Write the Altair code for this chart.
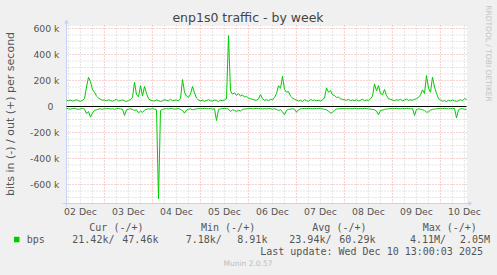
import altair as alt
import pandas as pd

# ---------------- data ----------------
title_text = "enp1s0 traffic - by week"
y_title = "bits in (-) / out (+) per second"
side_text = "RRDTOOL / TOBI OETIKER"
footer_text = "Munin 2.0.57"
update_text = "Last update: Wed Dec 10 13:00:03 2025"

# hours since Dec 2 05:00 (30-min RRD, 200 h window ending Dec 10 13:00)
x_label_hours = [7, 31, 55, 79, 103, 127, 151, 175, 199]
x_labels = ["02 Dec", "03 Dec", "04 Dec", "05 Dec", "06 Dec", "07 Dec", "08 Dec", "09 Dec", "10 Dec"]
major_x_hours = [19, 43, 67, 91, 115, 139, 163, 187]
minor_x_hours = [1, 7, 13, 25, 31, 37, 49, 55, 61, 73, 79, 85, 97, 103, 109,
                 121, 127, 133, 145, 151, 157, 169, 175, 181, 193, 199]
y_tick_values = [-600, -400, -200, 0, 200, 400, 600]
y_tick_labels = ["-600 k", "-400 k", "-200 k", "0", "200 k", "400 k", "600 k"]
major_y_values = [-600, -400, -200, 200, 400, 600]
minor_y_values = [-700, -650, -550, -500, -450, -350, -300, -250, -150, -100, -50,
                  50, 100, 150, 250, 300, 350, 450, 500, 550]

# outbound bits/s (k), one value per hour
out_k = (
    [48, 44, 50, 42, 46, 52, 44, 40, 47, 60]
    + [150, 225, 190, 130, 110, 80, 65, 55, 48, 50]
    + [44, 52, 46, 40, 48, 55, 42, 46, 50, 44, 38, 47, 52, 70]
    + [187, 90, 75, 160, 80, 154, 100, 60, 48, 45]
    + [42, 50, 46, 38, 44, 52, 47, 43, 55, 45, 48, 50, 44, 60]
    + [208, 110, 80, 70, 95, 154, 105, 65, 50, 44]
    + [48, 40, 46, 52, 44, 42, 50, 46, 38, 48, 45, 50, 60]
    + [546, 120, 95, 105, 85, 100, 80, 90, 72, 78, 65]
    + [60, 55, 50, 48, 58, 92, 60, 48, 52, 44, 56, 50, 70]
    + [100, 160, 140, 233, 130, 110, 115, 80, 65, 55, 50]
    + [42, 48, 38, 52, 45, 40, 55, 46, 50, 44, 48, 42, 52, 65]
    + [143, 110, 123, 90, 85, 70, 72, 60, 55, 52]
    + [48, 55, 44, 50, 46, 52, 42, 48, 56, 45, 50, 47, 58, 80]
    + [174, 120, 161, 100, 90, 131, 85, 60, 55, 50]
    + [45, 52, 48, 55, 44, 50, 58, 46, 52, 48, 55, 60, 70, 90]
    + [128, 100, 238, 140, 110, 226, 150, 102, 60, 50]
    + [40, 46, 38, 48, 42, 50, 44, 38, 46, 52, 44, 60, 54]
)
# inbound bits/s (k), drawn below zero
in_k = (
    [15, 18, 20, 16, 14, 18, 22, 17, 15, 20]
    + [55, 40, 82, 50, 30, 25, 20, 18, 22, 16]
    + [18, 15, 20, 17, 22, 16, 14, 19, 21, 69, 25, 20, 18, 22]
    + [30, 25, 49, 35, 45, 28, 22, 18, 20, 16]
    + [20, 25, 710, 30, 22, 18, 16, 19, 15, 17, 20, 18, 16, 22]
    + [30, 51, 28, 20, 18, 25, 22, 18, 16, 15]
    + [17, 14, 16, 18, 15, 20, 17, 108, 22, 18, 16, 15, 17]
    + [20, 38, 25, 30, 38, 28, 35, 22, 20, 18, 16]
    + [15, 18, 16, 14, 17, 15, 19, 16, 18, 15, 17, 20, 18]
    + [22, 30, 25, 40, 64, 30, 22, 20, 18, 20, 44]
    + [25, 18, 16, 15, 17, 14, 16, 18, 15, 17, 14, 16, 18, 22]
    + [25, 35, 51, 45, 28, 20, 18, 16, 15, 17]
    + [16, 18, 15, 17, 14, 16, 18, 15, 17, 14, 16, 18, 20, 22]
    + [25, 35, 64, 30, 28, 22, 20, 18, 16, 15]
    + [17, 14, 16, 18, 15, 17, 14, 16, 18, 15, 69, 22, 18, 20]
    + [25, 30, 44, 40, 28, 22, 20, 18, 16, 15]
    + [17, 14, 16, 18, 15, 17, 14, 87, 25, 18, 16, 21, 21]
)

series_name = "bps"
legend_headers = ["Cur (-/+)", "Min (-/+)", "Avg (-/+)", "Max (-/+)"]
legend_in = ["21.42k/", "7.18k/", "23.94k/", "4.11M/"]
legend_out = ["47.46k", "8.91k", "60.29k", "2.05M"]

# ---------------- layout / style ----------------
OX, OY = 66.5, 25.5          # plot origin in page pixels
W, H = 400, 178
Y_MIN, Y_MAX = -746.15, 623.08
GREEN = "#00CC00"
TXT = "#555555"
AXIS_C = "#C9D0F5"
MINOR_C = "#CDCDCD"
MAJOR_C = "#F3A3A3"

df = pd.DataFrame({"h": list(range(len(out_k))), "out": out_k,
                   "inn": [-v for v in in_k]})

xs = alt.Scale(domain=[0, 200], nice=False, zero=False)
ys = alt.Scale(domain=[Y_MIN, Y_MAX], nice=False, zero=False)


def one():
    return alt.InlineData(values=[{}])


def txt(s, x, y, size, color=TXT, font="DejaVu Sans", align="left",
        baseline="middle", angle=0):
    return alt.Chart(one()).mark_text(
        text=s, align=align, baseline=baseline, fontSize=size, font=font,
        color=color, angle=angle
    ).encode(x=alt.value(x - OX), y=alt.value(y - OY))


layers = []

# grid
layers.append(alt.Chart(pd.DataFrame({"h": minor_x_hours})).mark_rule(
    color=MINOR_C, strokeDash=[1, 2], strokeWidth=1).encode(
    x=alt.X("h:Q", scale=xs, axis=None)))
layers.append(alt.Chart(pd.DataFrame({"v": minor_y_values})).mark_rule(
    color=MINOR_C, strokeDash=[1, 2], strokeWidth=1).encode(
    y=alt.Y("v:Q", scale=ys, axis=None)))
layers.append(alt.Chart(pd.DataFrame({"h": major_x_hours})).mark_rule(
    color=MAJOR_C, strokeDash=[1, 2], strokeWidth=1).encode(
    x=alt.X("h:Q", scale=xs, axis=None)))
layers.append(alt.Chart(pd.DataFrame({"v": major_y_values})).mark_rule(
    color=MAJOR_C, strokeDash=[1, 2], strokeWidth=1).encode(
    y=alt.Y("v:Q", scale=ys, axis=None)))

# axis lines with arrows
layers.append(alt.Chart(one()).mark_rule(color=AXIS_C, strokeWidth=1).encode(
    x=alt.value(0), y=alt.value(H + 3), y2=alt.value(-4)))
layers.append(alt.Chart(one()).mark_rule(color=AXIS_C, strokeWidth=1).encode(
    y=alt.value(H), x=alt.value(-4), x2=alt.value(W + 4)))
layers.append(alt.Chart(one()).mark_point(shape="triangle-up", filled=True,
                                          color=AXIS_C, size=22, opacity=1).encode(
    x=alt.value(0), y=alt.value(-4)))
layers.append(alt.Chart(one()).mark_point(shape="triangle-right", filled=True,
                                          color=AXIS_C, size=22, opacity=1).encode(
    x=alt.value(W + 4), y=alt.value(H)))

# tick labels (placed through the scales)
layers.append(alt.Chart(pd.DataFrame({"h": x_label_hours, "t": x_labels})).mark_text(
    baseline="middle", align="center", fontSize=9.3, font="DejaVu Sans", color=TXT).encode(
    x=alt.X("h:Q", scale=xs, axis=None), y=alt.value(212 - OY), text="t:N"))
ylab_df = pd.DataFrame({"v": [v for v in y_tick_values if v != 0],
                        "t": [t for v, t in zip(y_tick_values, y_tick_labels) if v != 0]})
layers.append(alt.Chart(ylab_df).mark_text(
    baseline="middle", align="right", fontSize=9.3, font="DejaVu Sans", color=TXT).encode(
    y=alt.Y("v:Q", scale=ys, axis=None), x=alt.value(59.5 - OX), text="t:N"))
layers.append(alt.Chart(pd.DataFrame({"v": [0], "t": ["0"]})).mark_text(
    baseline="middle", align="right", fontSize=9.3, font="DejaVu Sans", color=TXT).encode(
    y=alt.Y("v:Q", scale=ys, axis=None), x=alt.value(53.3 - OX), text="t:N"))

# data lines
base = alt.Chart(df)
layers.append(base.mark_line(color=GREEN, strokeWidth=1).encode(
    x=alt.X("h:Q", scale=xs, axis=None),
    y=alt.Y("out:Q", scale=ys, axis=None)))
layers.append(base.mark_line(color=GREEN, strokeWidth=1).encode(
    x=alt.X("h:Q", scale=xs, axis=None),
    y=alt.Y("inn:Q", scale=ys, axis=None)))

# zero line
layers.append(alt.Chart(pd.DataFrame({"v": [0]})).mark_rule(
    color="black", strokeWidth=1).encode(y=alt.Y("v:Q", scale=ys, axis=None)))

# texts
layers.append(txt(title_text, 248, 22, 12.5, color="#444444", align="center",
                  baseline="alphabetic"))
layers.append(txt(y_title, 11, 114, 11, angle=270, align="center"))
layers.append(txt(side_text, 488, 53.5, 7.5, color="#C4C4C4", angle=90,
                  align="center"))

MONO = "DejaVu Sans Mono"
hdr_x = [89.3, 201, 312.3, 422.7]
in_x = [72.3, 185.7, 289.3, 410]
out_x = [122.3, 237.3, 339.3, 460]
for s, x in zip(legend_headers, hdr_x):
    layers.append(txt(s, x, 227.7, 10, font=MONO))
for s, x in zip(legend_in, in_x):
    layers.append(txt(s, x, 239.7, 10, font=MONO))
for s, x in zip(legend_out, out_x):
    layers.append(txt(s, x, 239.7, 10, font=MONO))
layers.append(txt(series_name, 26.7, 239.7, 10, font=MONO))
layers.append(alt.Chart(one()).mark_rect(color=GREEN).encode(
    x=alt.value(14 - OX), x2=alt.value(19.5 - OX),
    y=alt.value(236.8 - OY), y2=alt.value(242.3 - OY)))
layers.append(txt(update_text, 483, 251.7, 10, font=MONO, align="right"))
layers.append(txt(footer_text, 248, 264.3, 7.5, color="#BDBDBD", align="center"))

chart = alt.layer(*layers).properties(
    width=W, height=H,
    padding={"left": OX, "top": OY, "right": 497 - OX - W, "bottom": 275 - OY - H},
    autosize=alt.AutoSizeParams(type="none"),
    background="#F0F0F0",
).configure_view(fill="white", stroke="transparent")

chart.save("out.html", embed_options={"renderer": "svg", "actions": False})
